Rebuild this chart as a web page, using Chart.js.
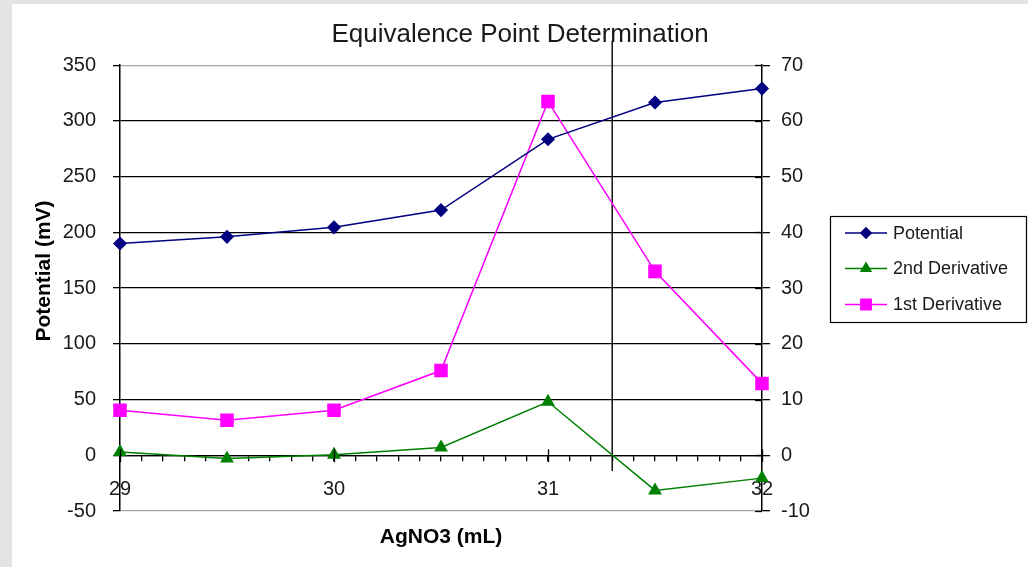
<!DOCTYPE html>
<html>
<head>
<meta charset="utf-8">
<title>Equivalence Point Determination</title>
<script src="https://cdn.jsdelivr.net/npm/chart.js@4/dist/chart.umd.min.js"></script>
<style>
  html, body { margin: 0; padding: 0; background: #e4e4e4; width: 1028px; height: 567px; overflow: hidden; }
  #frame { position: absolute; left: 12px; top: 4px; width: 1016px; height: 563px; background: #ffffff; }
  canvas { display: block; }
</style>
</head>
<body>
<div id="frame"><canvas id="chart" width="1016" height="563"></canvas></div>
<script>
// Titration readings: volume of AgNO3 added (mL)
const volumes = [29, 29.5, 30, 30.5, 31, 31.5, 32];
// Measured cell potential (mV), left axis
const potential = [190, 196, 204.5, 220, 283.5, 316.5, 329];
// First derivative dE/dV, right axis
const firstDerivative = [8.1, 6.3, 8.1, 15.2, 63.5, 33.0, 12.9];
// Second derivative d2E/dV2, right axis
const secondDerivative = [0.6, -0.6, 0.1, 1.4, 9.6, -6.3, -4.1];
// Equivalence point marker (where the 2nd derivative crosses zero)
const equivalenceVolume = 31.3;
const equivalenceSpan = [372, -14];

const FONT = "'Liberation Sans', Arial, sans-serif";
const TEXT = '#1a1a1a';

const pairs = (ys) => volumes.map((v, i) => ({ x: v, y: ys[i] }));

// Crossing ticks, custom legend box and rotated y-axis title
const decorations = {
  id: 'decorations',
  afterDraw(chart) {
    const ctx = chart.ctx;
    const x = chart.scales.x, y = chart.scales.y, y1 = chart.scales.y1;
    const zeroY = y.getPixelForValue(0);

    ctx.save();
    // major ticks on the crossing x axis extend above the axis line
    ctx.strokeStyle = '#000';
    ctx.lineWidth = 1.3;
    for (let v = 29; v <= 32; v++) {
      const px = Math.round(x.getPixelForValue(v)) + 0.5;
      ctx.beginPath();
      ctx.moveTo(px, zeroY - 6);
      ctx.lineTo(px, zeroY + 7);
      ctx.stroke();
    }
    // right-axis ticks cross into the plot
    y1.ticks.forEach(t => {
      const py = Math.round(y1.getPixelForValue(t.value)) + 0.5;
      ctx.beginPath();
      ctx.moveTo(chart.chartArea.right - 7, py);
      ctx.lineTo(chart.chartArea.right, py);
      ctx.stroke();
    });

    // y-axis title
    ctx.fillStyle = '#000';
    ctx.font = 'bold 21px ' + FONT;
    ctx.textAlign = 'center';
    ctx.textBaseline = 'middle';
    ctx.translate(32, 267);
    ctx.rotate(-Math.PI / 2);
    ctx.fillText('Potential (mV)', 0, 0);
    ctx.restore();

    // legend
    ctx.save();
    const bx = 818.5, by = 212.5, bw = 196, bh = 106;
    ctx.strokeStyle = '#000';
    ctx.lineWidth = 1.2;
    ctx.strokeRect(bx, by, bw, bh);
    const rows = [0, 1, 2].map(i => chart.data.datasets[i]);
    const rowY = [229, 264.5, 300.5];
    ctx.font = '18px ' + FONT;
    ctx.textBaseline = 'middle';
    ctx.textAlign = 'left';
    rows.forEach((ds, i) => {
      const yy = rowY[i];
      ctx.strokeStyle = ds.borderColor;
      ctx.lineWidth = 1.6;
      ctx.beginPath();
      ctx.moveTo(833, yy);
      ctx.lineTo(875, yy);
      ctx.stroke();
      ctx.fillStyle = ds.pointBackgroundColor;
      ctx.strokeStyle = ds.pointBorderColor;
      Chart.helpers.drawPoint(ctx, {
        pointStyle: ds.pointStyle,
        radius: ds.pointRadius * 0.85,
        rotation: 0,
        borderWidth: 1
      }, 854, yy);
      ctx.fillStyle = TEXT;
      ctx.fillText(ds.label, 881, yy + 1);
    });
    ctx.restore();
  }
};

const gridColor = (ctx) => {
  const v = ctx.tick ? ctx.tick.value : null;
  return (v === 350 || v === -50) ? '#a6a6a6' : '#000000';
};

new Chart(document.getElementById('chart'), {
  type: 'line',
  data: {
    datasets: [
      {
        label: 'Potential',
        data: pairs(potential),
        yAxisID: 'y',
        borderColor: '#000080',
        backgroundColor: '#000080',
        pointBackgroundColor: '#000080',
        pointBorderColor: '#000080',
        pointStyle: 'rectRot',
        pointRadius: 6,
        borderWidth: 1.5,
        clip: false,
        tension: 0
      },
      {
        label: '2nd Derivative',
        data: pairs(secondDerivative),
        yAxisID: 'y1',
        borderColor: '#008000',
        backgroundColor: '#008000',
        pointBackgroundColor: '#008000',
        pointBorderColor: '#008000',
        pointStyle: 'triangle',
        pointRadius: 6.5,
        borderWidth: 1.5,
        clip: false,
        tension: 0
      },
      {
        label: '1st Derivative',
        data: pairs(firstDerivative),
        yAxisID: 'y1',
        borderColor: '#ff00ff',
        backgroundColor: '#ff00ff',
        pointBackgroundColor: '#ff00ff',
        pointBorderColor: '#ff00ff',
        pointStyle: 'rect',
        pointRadius: 8.5,
        borderWidth: 1.5,
        clip: false,
        tension: 0
      },
      {
        label: 'Equivalence point',
        data: equivalenceSpan.map(v => ({ x: equivalenceVolume, y: v })),
        yAxisID: 'y',
        borderColor: '#000000',
        borderWidth: 1.4,
        pointRadius: 0,
        clip: false,
        tension: 0
      }
    ]
  },
  options: {
    responsive: false,
    animation: false,
    devicePixelRatio: 1,
    layout: { padding: 0 },
    plugins: {
      legend: { display: false },
      tooltip: { enabled: false },
      title: {
        display: true,
        text: 'Equivalence Point Determination',
        color: TEXT,
        font: { family: FONT, size: 26, weight: 'normal' },
        padding: { top: 15, bottom: 15 }
      }
    },
    scales: {
      x: {
        type: 'linear',
        min: 29,
        max: 32,
        position: { y: 0 },
        border: { display: true, color: '#000', width: 1.3 },
        grid: { drawOnChartArea: false, drawTicks: true, tickLength: 5, color: '#000', tickColor: '#000', lineWidth: 1.3 },
        ticks: {
          stepSize: 0.1,
          autoSkip: false,
          maxRotation: 0,
          padding: 17,
          color: TEXT,
          font: { family: FONT, size: 20 },
          callback: (v) => Math.abs(v - Math.round(v)) < 1e-6 ? String(Math.round(v)) : ''
        }
      },
      x2: {
        type: 'linear',
        min: 29,
        max: 32,
        position: 'bottom',
        border: { display: false },
        grid: { display: false },
        ticks: { display: false },
        title: {
          display: true,
          text: 'AgNO3 (mL)',
          color: '#000',
          font: { family: FONT, size: 21, weight: 'bold' },
          padding: { top: 0, bottom: 17 }
        },
        afterFit: (s) => { s.height = 56; }
      },
      y: {
        type: 'linear',
        position: 'left',
        min: -50,
        max: 350,
        border: { display: true, color: '#000', width: 1.5 },
        grid: { color: gridColor, tickColor: '#000', lineWidth: 1.3, tickLength: 7 },
        ticks: { stepSize: 50, padding: 17, color: TEXT, font: { family: FONT, size: 20 } },
        afterFit: (s) => { s.width = 108; }
      },
      y1: {
        type: 'linear',
        position: 'right',
        min: -10,
        max: 70,
        border: { display: true, color: '#000', width: 1.5 },
        grid: { drawOnChartArea: false, tickColor: '#000', lineWidth: 1.3, tickLength: 8 },
        ticks: { stepSize: 10, padding: 11, color: TEXT, font: { family: FONT, size: 20 } },
        afterFit: (s) => { s.width = 266; }
      }
    }
  },
  plugins: [decorations]
});
</script>
</body>
</html>
